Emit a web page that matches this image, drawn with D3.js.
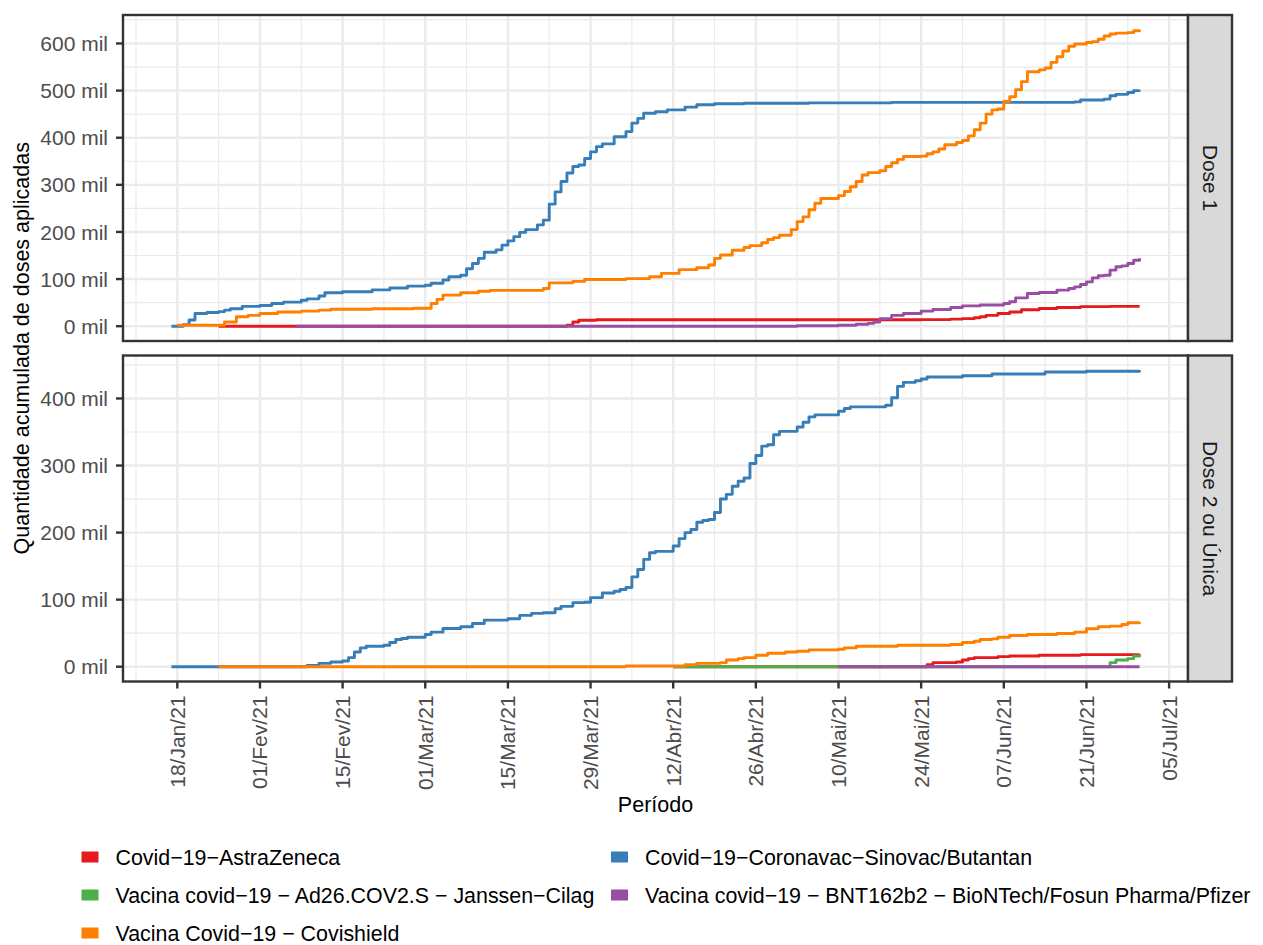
<!DOCTYPE html>
<html><head><meta charset="utf-8">
<script src="https://cdn.jsdelivr.net/npm/d3@7"></script>
<style>
body{margin:0;background:#fff}
text{font-family:"Liberation Sans",Arial,Helvetica,sans-serif}
</style>
</head><body>
<svg id="chart" width="1263" height="945"></svg>
<script>
// ---------- DATA (cumulative doses, in thousands "mil") ----------
const vaccineNames = [
  "Covid\u221219\u2212AstraZeneca",
  "Covid\u221219\u2212Coronavac\u2212Sinovac/Butantan",
  "Vacina covid\u221219 \u2212 Ad26.COV2.S \u2212 Janssen\u2212Cilag",
  "Vacina covid\u221219 \u2212 BNT162b2 \u2212 BioNTech/Fosun Pharma/Pfizer",
  "Vacina Covid\u221219 \u2212 Covishield"
];
const vaccineColors = ["#E41A1C", "#377EB8", "#4DAF4A", "#984EA3", "#FF7F00"];
const doseLabels = ["Dose 1", "Dose 2 ou \u00DAnica"];

const d1_astrazeneca = [["2021-01-25",0],["2021-03-25",2],["2021-03-26",9],["2021-03-27",12.5],["2021-03-30",13.5],["2021-05-24",14],["2021-05-29",15],["2021-05-31",16],["2021-06-02",18],["2021-06-03",20],["2021-06-04",23],["2021-06-06",27],["2021-06-08",30],["2021-06-10",35],["2021-06-13",37.5],["2021-06-16",39.5],["2021-06-20",41.5],["2021-06-25",42],["2021-06-30",42]];
const d1_coronavac = [["2021-01-17",0],["2021-01-19",3],["2021-01-20",13],["2021-01-21",27],["2021-01-23",29],["2021-01-25",31],["2021-01-26",34],["2021-01-27",37],["2021-01-29",42],["2021-02-01",44],["2021-02-03",48],["2021-02-05",51],["2021-02-08",55],["2021-02-09",58],["2021-02-11",64],["2021-02-12",71],["2021-02-15",73],["2021-02-20",77],["2021-02-23",81],["2021-02-26",85],["2021-03-01",87],["2021-03-02",91],["2021-03-04",98],["2021-03-05",105],["2021-03-07",108],["2021-03-08",122],["2021-03-09",133],["2021-03-10",144],["2021-03-11",157],["2021-03-13",162],["2021-03-14",172],["2021-03-15",181],["2021-03-16",190],["2021-03-17",199],["2021-03-18",205],["2021-03-20",215],["2021-03-21",225],["2021-03-22",259],["2021-03-23",285],["2021-03-24",307],["2021-03-25",325],["2021-03-26",339],["2021-03-27",342],["2021-03-28",356],["2021-03-29",370],["2021-03-30",381],["2021-03-31",387],["2021-04-02",402],["2021-04-04",413],["2021-04-05",431],["2021-04-06",441],["2021-04-07",452],["2021-04-09",455],["2021-04-11",459],["2021-04-14",465],["2021-04-16",470],["2021-04-19",472],["2021-04-24",473],["2021-05-05",474],["2021-05-19",475],["2021-06-19",476],["2021-06-20",480],["2021-06-24",482],["2021-06-25",489],["2021-06-26",492],["2021-06-28",496],["2021-06-29",500],["2021-06-30",501]];
const d1_pfizer = [["2021-02-07",0],["2021-05-03",1],["2021-05-10",2],["2021-05-13",4],["2021-05-15",6],["2021-05-16",9],["2021-05-17",16],["2021-05-19",23],["2021-05-21",27],["2021-05-24",32],["2021-05-26",35.5],["2021-05-29",39.5],["2021-05-31",43],["2021-06-03",45],["2021-06-07",48],["2021-06-08",52],["2021-06-09",60],["2021-06-11",69.5],["2021-06-13",71.5],["2021-06-16",76.5],["2021-06-18",80],["2021-06-19",83.5],["2021-06-20",88.5],["2021-06-21",94],["2021-06-22",102.5],["2021-06-23",107],["2021-06-24",108],["2021-06-25",119],["2021-06-26",126],["2021-06-27",128],["2021-06-28",133],["2021-06-29",140],["2021-06-30",144]];
const d1_covishield = [["2021-01-18",2],["2021-01-26",9],["2021-01-28",20],["2021-01-30",23],["2021-02-01",27],["2021-02-04",30],["2021-02-08",32],["2021-02-11",34],["2021-02-13",36],["2021-02-20",37],["2021-02-27",38],["2021-03-02",48],["2021-03-03",57],["2021-03-04",66],["2021-03-07",71],["2021-03-10",74],["2021-03-12",76],["2021-03-21",80],["2021-03-22",92],["2021-03-26",95],["2021-03-28",99],["2021-04-04",101],["2021-04-08",105],["2021-04-10",112],["2021-04-13",120],["2021-04-16",124],["2021-04-18",130],["2021-04-19",144],["2021-04-20",151],["2021-04-22",161],["2021-04-24",167],["2021-04-25",171],["2021-04-27",177],["2021-04-28",184],["2021-04-29",188],["2021-04-30",193],["2021-05-02",205],["2021-05-03",222],["2021-05-04",232],["2021-05-05",247],["2021-05-06",261],["2021-05-07",271],["2021-05-10",277],["2021-05-11",286],["2021-05-12",296],["2021-05-13",307],["2021-05-14",321],["2021-05-15",326],["2021-05-17",330],["2021-05-18",339],["2021-05-19",347],["2021-05-20",354],["2021-05-21",360],["2021-05-24",361],["2021-05-25",366],["2021-05-26",370],["2021-05-27",376],["2021-05-28",385],["2021-05-30",390],["2021-05-31",394],["2021-06-01",404],["2021-06-02",417],["2021-06-03",431],["2021-06-04",450],["2021-06-05",459],["2021-06-06",461],["2021-06-07",477],["2021-06-08",487],["2021-06-09",502],["2021-06-10",519],["2021-06-11",540],["2021-06-13",544],["2021-06-14",548],["2021-06-15",560],["2021-06-16",572],["2021-06-17",584],["2021-06-18",594],["2021-06-19",599],["2021-06-21",602],["2021-06-22",604],["2021-06-23",609],["2021-06-24",616],["2021-06-25",620],["2021-06-26",622],["2021-06-28",623],["2021-06-29",627],["2021-06-30",629]];

const d2_astrazeneca = [["2021-04-12",0],["2021-05-25",3],["2021-05-26",6],["2021-05-30",7],["2021-05-31",10],["2021-06-01",12],["2021-06-02",13.5],["2021-06-06",15],["2021-06-08",16],["2021-06-13",17],["2021-06-20",18],["2021-06-30",18.5]];
const d2_coronavac = [["2021-01-17",0],["2021-02-09",2],["2021-02-11",5],["2021-02-13",7],["2021-02-15",8.5],["2021-02-16",13.5],["2021-02-17",22],["2021-02-18",28],["2021-02-19",30.5],["2021-02-22",32],["2021-02-23",36],["2021-02-24",40.5],["2021-02-25",42],["2021-02-26",44],["2021-03-01",48],["2021-03-02",51.5],["2021-03-04",57],["2021-03-07",59.5],["2021-03-09",64.5],["2021-03-11",69.5],["2021-03-15",71.5],["2021-03-17",76.5],["2021-03-19",79.5],["2021-03-21",80.5],["2021-03-23",86.5],["2021-03-24",90],["2021-03-26",95.5],["2021-03-28",96],["2021-03-29",103],["2021-03-31",110],["2021-04-02",112.5],["2021-04-03",115],["2021-04-04",118],["2021-04-05",134],["2021-04-06",145],["2021-04-07",160],["2021-04-08",170],["2021-04-09",172],["2021-04-12",180],["2021-04-13",191],["2021-04-14",200],["2021-04-15",204.5],["2021-04-16",215.5],["2021-04-17",218],["2021-04-18",219.5],["2021-04-19",230],["2021-04-20",250],["2021-04-21",257],["2021-04-22",269],["2021-04-23",276.5],["2021-04-24",281.5],["2021-04-25",303],["2021-04-26",315],["2021-04-27",329],["2021-04-28",331],["2021-04-29",346],["2021-04-30",351],["2021-05-03",357.5],["2021-05-04",364.5],["2021-05-05",372.5],["2021-05-06",375.5],["2021-05-10",381],["2021-05-11",385],["2021-05-12",387.5],["2021-05-18",390],["2021-05-19",401],["2021-05-20",418],["2021-05-21",424],["2021-05-23",426.5],["2021-05-24",429],["2021-05-25",432],["2021-05-31",434],["2021-06-05",436.5],["2021-06-14",439.5],["2021-06-21",440.5],["2021-06-30",442]];
const d2_janssen = [["2021-04-12",0],["2021-06-25",6],["2021-06-26",10],["2021-06-28",12],["2021-06-29",16],["2021-06-30",17]];
const d2_pfizer = [["2021-05-10",0],["2021-06-30",0]];
const d2_covishield = [["2021-01-25",0],["2021-04-04",1],["2021-04-14",3],["2021-04-16",5],["2021-04-20",6],["2021-04-21",10],["2021-04-23",12],["2021-04-24",13.5],["2021-04-26",17],["2021-04-28",20],["2021-05-01",22],["2021-05-03",23],["2021-05-05",25],["2021-05-10",26],["2021-05-11",28],["2021-05-13",30.5],["2021-05-20",32],["2021-05-29",33],["2021-05-31",36],["2021-06-02",38],["2021-06-03",40.5],["2021-06-05",41.5],["2021-06-06",44],["2021-06-08",46.5],["2021-06-11",48],["2021-06-16",49.5],["2021-06-19",51.5],["2021-06-21",56.5],["2021-06-23",59.5],["2021-06-25",60.5],["2021-06-27",63],["2021-06-28",65.5],["2021-06-30",66.5]];

const xTickDates = ["2021-01-18","2021-02-01","2021-02-15","2021-03-01","2021-03-15","2021-03-29","2021-04-12","2021-04-26","2021-05-10","2021-05-24","2021-06-07","2021-06-21","2021-07-05"];
const yTicksDose1 = [0,100,200,300,400,500,600];
const yTicksDose2 = [0,100,200,300,400];
const xTitle = "Per\u00EDodo";
const yTitle = "Quantidade acumulada de doses aplicadas";

// ---------- SETUP ----------
const parse = d3.utcParse("%Y-%m-%d");
const ptLocale = d3.timeFormatLocale({
  dateTime: "%d/%m/%Y %H:%M:%S", date: "%d/%m/%Y", time: "%H:%M:%S",
  periods: ["AM","PM"],
  days: ["Domingo","Segunda","Terça","Quarta","Quinta","Sexta","Sábado"],
  shortDays: ["Dom","Seg","Ter","Qua","Qui","Sex","Sáb"],
  months: ["Janeiro","Fevereiro","Março","Abril","Maio","Junho","Julho","Agosto","Setembro","Outubro","Novembro","Dezembro"],
  shortMonths: ["Jan","Fev","Mar","Abr","Mai","Jun","Jul","Ago","Set","Out","Nov","Dez"]
});
const fmtDate = ptLocale.utcFormat("%d/%b/%y");

const panelsData = [
  { label: doseLabels[0], ticks: yTicksDose1,
    series: [[0,d1_astrazeneca],[1,d1_coronavac],[3,d1_pfizer],[4,d1_covishield]] },
  { label: doseLabels[1], ticks: yTicksDose2,
    series: [[0,d2_astrazeneca],[1,d2_coronavac],[2,d2_janssen],[3,d2_pfizer],[4,d2_covishield]] }
];

const L = 123, R = 1188, stripW = 44;
const panelBoxes = [{top: 15, bottom: 341}, {top: 355.5, bottom: 681.5}];
const gridCol = "#EBEBEB", darkCol = "#333333";
const fsTick = 21, fsTitle = 21.5, fsLegend = 21.4;

const svg = d3.select("#chart");
svg.append("rect").attr("width",1263).attr("height",945).attr("fill","#fff");

const allDates = [];
panelsData.forEach(p => p.series.forEach(s => s[1].forEach(d => allDates.push(parse(d[0])))));
const [dMin, dMax] = d3.extent(allDates);
const span = dMax - dMin;
const x = d3.scaleUtc().domain([new Date(+dMin - 0.05*span), new Date(+dMax + 0.05*span)]).range([L, R]);

const majorX = xTickDates.map(parse);
const dayMs = 86400000;
const minorX = [new Date(+majorX[0] - 7*dayMs)].concat(majorX.map(d => new Date(+d + 7*dayMs)))
  .filter(d => d >= x.domain()[0] && d <= x.domain()[1]);

panelsData.forEach((p, i) => {
  const box = panelBoxes[i];
  const maxV = d3.max(p.series, s => d3.max(s[1], d => d[1]));
  const y = d3.scaleLinear().domain([-0.05*maxV, maxV*1.05]).range([box.bottom, box.top]);
  const g = svg.append("g");
  g.append("rect").attr("x",L).attr("y",box.top).attr("width",R-L).attr("height",box.bottom-box.top).attr("fill","#fff");
  // minor grid
  const minorY = p.ticks.map(t => t + 50).filter(t => t <= y.domain()[1]);
  g.selectAll(".myn").data(minorY).join("line")
    .attr("x1",L).attr("x2",R).attr("y1",d=>y(d)).attr("y2",d=>y(d))
    .attr("stroke",gridCol).attr("stroke-width",1.2);
  g.selectAll(".mxn").data(minorX).join("line")
    .attr("y1",box.top).attr("y2",box.bottom).attr("x1",d=>x(d)).attr("x2",d=>x(d))
    .attr("stroke",gridCol).attr("stroke-width",1.2);
  // major grid
  g.selectAll(".myj").data(p.ticks).join("line")
    .attr("x1",L).attr("x2",R).attr("y1",d=>y(d)).attr("y2",d=>y(d))
    .attr("stroke",gridCol).attr("stroke-width",2.4);
  g.selectAll(".mxj").data(majorX).join("line")
    .attr("y1",box.top).attr("y2",box.bottom).attr("x1",d=>x(d)).attr("x2",d=>x(d))
    .attr("stroke",gridCol).attr("stroke-width",2.4);
  // lines
  const line = d3.line().curve(d3.curveStepAfter).x(d => x(parse(d[0]))).y(d => y(d[1]));
  p.series.forEach(([ci, data]) => {
    g.append("path").attr("d", line(data)).attr("fill","none")
      .attr("stroke", vaccineColors[ci]).attr("stroke-width",2.9)
      .attr("stroke-linejoin","round").attr("stroke-linecap","butt");
  });
  // border
  g.append("rect").attr("x",L).attr("y",box.top).attr("width",R-L).attr("height",box.bottom-box.top)
    .attr("fill","none").attr("stroke",darkCol).attr("stroke-width",2.4);
  // y axis ticks + labels
  g.selectAll(".yt").data(p.ticks).join("line")
    .attr("x1",L-7).attr("x2",L).attr("y1",d=>y(d)).attr("y2",d=>y(d))
    .attr("stroke",darkCol).attr("stroke-width",2.4);
  g.selectAll(".yl").data(p.ticks).join("text")
    .attr("x",L-15).attr("y",d=>y(d)).attr("dy","0.36em")
    .attr("text-anchor","end").attr("font-size",fsTick).attr("fill","#4D4D4D")
    .text(d => d + " mil");
  // strip
  g.append("rect").attr("x",R).attr("y",box.top).attr("width",stripW).attr("height",box.bottom-box.top)
    .attr("fill","#D9D9D9").attr("stroke",darkCol).attr("stroke-width",2.4);
  g.append("text").attr("transform",`translate(${R + stripW/2 - 7.5},${(box.top+box.bottom)/2}) rotate(90)`)
    .attr("text-anchor","middle").attr("font-size",fsTick).attr("fill","#1A1A1A").text(p.label);
});

// x axis (bottom panel)
const bottom = panelBoxes[1].bottom;
svg.selectAll(".xt").data(majorX).join("line")
  .attr("x1",d=>x(d)).attr("x2",d=>x(d)).attr("y1",bottom).attr("y2",bottom+7)
  .attr("stroke",darkCol).attr("stroke-width",2.4);
svg.selectAll(".xl").data(majorX).join("text")
  .attr("transform",d=>`translate(${x(d)+7.5},${bottom+14}) rotate(-90)`)
  .attr("text-anchor","end").attr("font-size",fsTick).attr("fill","#4D4D4D")
  .text(d => fmtDate(d));

// titles
svg.append("text").attr("x",(L+R)/2).attr("y",812).attr("text-anchor","middle")
  .attr("font-size",fsTitle).attr("fill","#000").text(xTitle);
svg.append("text").attr("transform",`translate(29,${(panelBoxes[0].top+panelBoxes[1].bottom)/2}) rotate(-90)`)
  .attr("text-anchor","middle").attr("font-size",fsTitle).attr("fill","#000").text(yTitle);

// legend
const legendOrder = [0,1,2,3,4];
const colX = [81.5, 611], rowY = [857, 895, 933];
legendOrder.forEach((ci, k) => {
  const col = k % 2, row = Math.floor(k / 2);
  const lg = svg.append("g");
  lg.append("rect").attr("x",colX[col]).attr("y",rowY[row]-5.5).attr("width",17).attr("height",11)
    .attr("fill",vaccineColors[ci]);
  lg.append("text").attr("x",colX[col]+34).attr("y",rowY[row]).attr("dy","0.36em")
    .attr("font-size",fsLegend).attr("fill","#000").text(vaccineNames[ci]);
});
</script>
</body></html>
